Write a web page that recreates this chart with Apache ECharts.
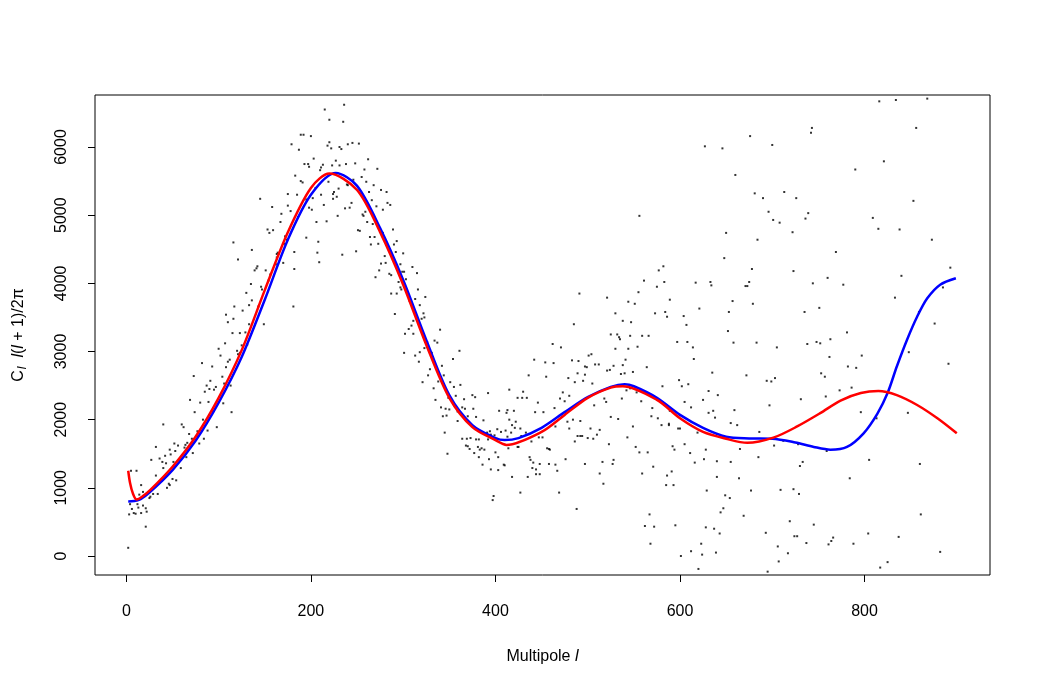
<!DOCTYPE html>
<html>
<head>
<meta charset="utf-8">
<script src="https://cdn.jsdelivr.net/npm/echarts@6.0.0/dist/echarts.min.js"></script>
<style>
  html, body { margin: 0; padding: 0; background: #fff; }
  #chart { width: 1038px; height: 692px; }
</style>
</head>
<body>
<div id="chart"></div>
<script>
const points = [
  [179,6040],[183,5580],[175,5310],[145,5240],[158,5120],[175,5140],[168,5020],[178,5060],[153,4790],[155,4740],
  [159,4780],[167,4900],[116,4600],[172,4690],[174,4640],[171,4580],[136,4490],[164,4450],[163,4430],[163,4380],
  [182,4460],[121,4350],[170,4300],[162,4280],[142,4250],[141,4220],[139,4190],[151,4190],[156,4130],[182,4210],
  [154,4040],[135,3990],[146,3950],[147,3910],[130,3860],[136,3750],[133,3680],[117,3660],[143,3660],[181,3660],
  [126,3600],[108,3540],[116,3480],[110,3430],[133,3400],[149,3400],[115,3270],[129,3280],
  [123,3270],[107,3120],[125,3090],[131,3100],[100,3040],[120,3010],[123,2980],[121,2960],[102,2940],[112,2880],
  [110,2850],[82,2830],[93,2780],[108,2770],[73,2640],[104,2630],[91,2570],[106,2530],[113,2500],[87,2500],
  [97,2480],[90,2450],[95,2440],[85,2410],[69,2290],[89,2260],[105,2240],[80,2250],[94,2120],[114,2110],
  [74,2110],[83,2000],[40,1930],[60,1930],[62,1890],[77,1830],[88,1840],[98,1890],[68,1790],[76,1760],
  [84,1720],[71,1720],[52,1650],[79,1650],[66,1660],[32,1600],[56,1620],[64,1630],[63,1590],[47,1560],
  [53,1540],[42,1470],[48,1490],[72,1510],[65,1450],[27,1410],[36,1430],[39,1380],[43,1360],[51,1380],
  [40,1290],[59,1290],[32,1180],[42,1170],[50,1130],[54,1110],[16,1040],[46,1060],[47,1040],[44,1000],
  [5,1250],[11,1250],[29,910],[34,910],[18,940],[14,900],[25,850],[26,870],[12,760],[4,760],
  [18,740],[6,690],[13,710],[21,700],[22,650],[3,610],[8,630],[10,620],[16,630],[21,430],[2,120],
  [215,6550],[236,6620],[220,6400],[235,6370],[189,6180],[192,6180],[200,6160],[220,6070],[218,6020],[222,5980],
  [231,6000],[233,5970],[240,6040],[245,6060],[252,6050],[187,5960],[203,5830],[193,5750],[197,5750],[198,5710],
  [213,5740],[211,5700],[210,5660],[223,5730],[227,5800],[231,5730],[238,5750],[248,5760],[262,5820],[258,5670],
  [272,5680],[189,5500],[191,5480],[219,5490],[205,5400],[230,5390],[225,5340],[239,5450],[240,5440],[246,5520],
  [255,5560],[260,5490],[268,5440],[263,5340],[276,5370],[282,5340],[185,5300],[195,5230],[202,5250],[211,5300],
  [224,5310],[228,5270],[224,5240],[244,5180],[242,5110],[237,5100],[214,5150],[198,5110],[201,5080],[266,5220],
  [271,5130],[278,5080],[283,5180],[286,5150],[186,4970],[206,4900],[217,4910],[229,4990],[259,5050],[256,5010],
  [257,4990],[261,4900],[267,4870],[251,4780],[253,4770],[278,4740],[289,4790],[195,4670],[208,4610],[207,4450],
  [209,4310],[234,4420],[249,4470],[264,4680],[269,4680],[265,4570],[273,4580],[293,4620],[290,4570],[292,4460],
  [300,4440],[280,4400],[281,4300],[276,4290],[274,4190],[270,4090],[285,4140],[287,4120],[297,4280],[299,4170],
  [301,4170],[303,4060],[310,4240],[315,4150],[295,4020],[297,3940],[298,3910],[287,3850],[293,3850],[316,3910],
  [324,3800],[313,3770],[307,3740],[318,3680],[291,3550],[322,3560],[323,3500],[320,3480],[311,3450],[309,3380],
  [306,3330],[340,3320],[302,3260],[311,3260],
  [301,2980],[313,2940],[318,2990],[317,2850],[323,3050],[326,3140],[334,3160],[337,3130],[331,2980],[361,3010],
  [354,2890],[342,2790],[327,2650],[329,2740],[321,2550],[344,2650],[338,2560],[351,2550],[362,2510],[355,2480],
  [333,2460],[357,2350],[349,2320],[335,2290],[366,2300],[375,2360],[378,2330],[392,2390],[341,2180],[346,2160],
  [350,2150],[364,2180],[367,2160],[376,2160],[359,2120],[343,2050],[347,2060],[370,2050],[379,2040],[387,1990],
  [359,1980],[345,1810],[364,1720],[369,1720],[373,1730],[379,1710],[382,1710],[391,1810],[394,1830],[392,1710],
  [368,1620],[372,1570],[370,1610],[381,1600],[383,1560],[385,1580],[388,1560],[377,1510],[382,1450],[393,1420],
  [386,1340],[348,1500],
  [525,3250],[532,3250],[534,3210],[535,3180],[546,3230],[559,3230],[566,3230],[652,3300],[462,3110],[471,3060],
  [530,3040],[544,3040],[554,3070],[597,3140],[608,3140],[614,3060],[658,3130],[501,2940],[504,2960],[541,2880],
  [442,2880],[454,2840],[463,2830],[483,2870],[490,2860],[497,2780],[499,2770],[508,2810],[512,2810],[528,2790],
  [538,2800],[564,2770],[615,2890],[436,2650],[455,2630],[479,2610],[489,2680],[497,2660],[521,2720],[524,2730],
  [536,2670],[540,2680],[549,2700],[635,2690],[486,2550],[495,2570],[505,2530],[599,2580],[609,2520],[602,2490],
  [415,2440],[430,2410],[424,2320],[429,2320],[434,2320],[473,2400],[480,2350],[470,2310],[475,2270],[446,2250],
  [518,2310],[520,2260],[537,2310],[542,2430],[546,2460],[553,2400],[558,2270],[563,2390],[581,2490],[631,2420],
  [641,2360],[605,2260],[625,2290],[507,2210],[404,2130],[413,2140],[420,2130],[443,2110],[452,2110],[412,2100],
  [464,2170],[612,2180],[570,2170],[589,2130],[631,2100],[636,2130],[659,2140],[415,2000],[422,1970],[418,1920],
  [421,1880],[427,1870],[433,1810],[569,2050],[576,2020],[580,1920],[588,1940],[588,1920],[598,1870],[600,1870],
  [638,2030],[655,1950],[465,1900],[478,1970],[484,2000],[492,1980],[503,1870],[513,1850],[480,1870],[525,2040],
  [533,2010],[549,1900],[395,1780],[399,1770],[402,1860],[406,1820],[411,1840],[413,1750],[417,1810],[401,1720],
  [428,1760],[439,1680],[447,1740],[451,1740],[489,1760],[492,1760],[494,1760],[486,1680],[500,1730],[506,1720],
  [510,1780],[523,1640],[543,1740],[619,1810],[605,1640],[424,1600],[425,1600],[414,1580],[400,1520],[403,1450],
  [437,1450],[456,1580],[458,1570],[459,1560],[438,1410],[441,1370],[448,1350],[458,1350],[465,1340],[476,1420],
  [497,1350],[516,1380],[528,1410],[527,1350],[552,1600],[556,1520],[565,1520],[592,1610],[594,1560],[611,1510],
  [616,1370],[626,1420],[628,1560],[640,1390],[655,1380],[440,1290],[444,1270],[467,1250],[395,1270],[403,1260],
  [409,1340],[410,1330],[418,1160],[435,1160],[444,1200],[448,1200],[513,1210],[559,1210],[571,1310],[586,1180],
  [591,1240],[640,1160],[517,1060],[585,1040],[593,1040],[629,960],[427,930],[469,930],[398,880],[397,820],
  [649,890],[654,850],[488,690],[647,700],[644,640],[567,610],[562,440],[572,430],[595,450],[628,420],
  [637,400],[643,330],[568,180],[623,180],[612,70],[624,20],[601,0],[639,50],[620,-190],
  [627,6010],[646,5980],[660,5590],[556,4990],[650,4740],[648,4370],[582,4250],[577,4190],[561,4040],[583,4020],
  [575,3950],[617,4010],[633,4020],[634,3970],[491,3850],[521,3790],[555,3870],[589,3760],[544,3730],[551,3700],
  [657,3740],[621,3630],[530,3560],[573,3560],[584,3580],[586,3510],[604,3520],[653,3580],[485,3400],[538,3450],
  [547,3430],[607,3390],
  [816,6670],[834,6690],[868,6710],[743,6280],[742,6210],[856,6280],[676,6160],[700,6030],[821,5790],[790,5670],
  [681,5320],[690,5250],[713,5340],[726,5250],[853,5210],[696,5050],[739,5030],[736,4950],[701,4930],[708,4890],
  [722,4750],[809,4960],[815,4800],[838,4790],[684,4640],[873,4640],[769,4460],[678,4210],[723,4180],[893,4230],
  [675,4020],[671,3960],[673,3960],[760,4080],[744,4000],[777,3980],[840,4110],[885,3940],[679,3700],[751,3640],
  [735,3580],[833,3790],[859,3580],[876,3410],[781,3280],
  [683,3130],[705,3060],[738,3110],[748,3140],[752,3120],[763,3180],[762,2920],[797,2940],[782,2780],[791,2760],
  [848,2990],[891,2820],[672,2650],[694,2570],[699,2560],[703,2610],[753,2680],[757,2630],[773,2430],[786,2470],
  [758,2340],[731,2300],[697,2210],[796,2110],[813,2020],[847,2100],[662,1920],[686,1820],[702,1620],[728,1640],
  [712,1690],[665,1570],[685,1450],[759,1540],[805,1410],[733,1380],[730,1320],[860,1350],[664,1140],[784,1140],
  [677,960],[709,970],[723,980],[729,910],[669,590],[861,610],[719,510],[745,460],[693,340],[804,330],
  [724,290],[727,290],[766,270],[764,220],[737,190],[761,170],[788,180],[837,280],[706,140],[717,40],
  [882,60],[707,-80],[825,-90],[817,-170],[695,-230]
];

// blue fit
const blueL = [2,13,24,50,75,100,125,150,175,200,227,250,275,300,325,350,375,400,410,425,450,475,500,525,540,550,575,600,625,650,675,700,725,745,763,781,799,814,825,835,846,857,868,882,899];
const blueV = [800,820,920,1260,1690,2250,2920,3760,4640,5300,5620,5430,4810,4050,3170,2360,1920,1730,1700,1730,1880,2110,2330,2480,2520,2490,2320,2070,1880,1750,1725,1720,1665,1600,1560,1600,1800,2090,2390,2780,3170,3510,3780,3980,4075];

// red fit
const redL = [2,4,7,11,17,26,50,75,100,125,150,175,200,220,250,275,300,325,350,375,400,412,450,475,500,525,538,575,600,625,650,673,702,727,752,774,796,815,835,857,879,900];
const redV = [1250,1070,920,830,870,970,1310,1750,2320,3020,3900,4750,5400,5610,5370,4750,3980,3100,2320,1890,1700,1630,1820,2070,2320,2470,2490,2290,2020,1820,1720,1660,1740,1900,2095,2280,2390,2420,2360,2215,2020,1800];

const xTicks = [0, 200, 400, 600, 800];
const yTicks = [0, 1000, 2000, 3000, 4000, 5000, 6000];

const font = "'Liberation Sans', Arial, Helvetica, sans-serif";

const chart = echarts.init(document.getElementById('chart'), null, { renderer: 'canvas' });

const option = {
  animation: false,
  backgroundColor: '#fff',
  textStyle: { fontFamily: font },
  grid: {
    left: 95, right: 48, top: 95, bottom: 117,
    show: true, borderColor: '#000', borderWidth: 1, backgroundColor: 'transparent'
  },
  xAxis: {
    type: 'value',
    min: -34, max: 936,
    axisLine: { show: false, onZero: false },
    splitLine: { show: false },
    axisTick: { show: true, inside: false, length: 7, customValues: xTicks, lineStyle: { color: '#000' } },
    axisLabel: { customValues: xTicks, color: '#000', fontSize: 16, margin: 29, fontFamily: font,
      formatter: (v) => String(v) },
    name: '{a|Multipole }{i|l}',
    nameLocation: 'middle',
    nameGap: 74,
    nameTextStyle: {
      rich: {
        a: { fontSize: 16, color: '#000', fontFamily: font },
        i: { fontSize: 16, color: '#000', fontFamily: font, fontStyle: 'italic' }
      }
    }
  },
  yAxis: {
    type: 'value',
    min: -279, max: 6763,
    axisLine: { show: false, onZero: false },
    splitLine: { show: false },
    axisTick: { show: true, inside: false, length: 7, customValues: yTicks, lineStyle: { color: '#000' } },
    axisLabel: { customValues: yTicks, color: '#000', fontSize: 16, rotate: 90, margin: 25, fontFamily: font,
      formatter: (v) => String(v) },
    name: '{a|C}{s|l}{a|  }{i|l}{a|(}{i|l}{a| + 1)/2π}',
    nameLocation: 'middle',
    nameRotate: 90,
    nameGap: 66,
    nameTextStyle: {
      rich: {
        a: { fontSize: 16, color: '#000', fontFamily: font },
        i: { fontSize: 16, color: '#000', fontFamily: font, fontStyle: 'italic' },
        s: { fontSize: 12, color: '#000', fontFamily: font, fontStyle: 'italic', padding: [9, 0, 0, 1] }
      }
    }
  },
  series: [
    {
      type: 'scatter',
      data: points,
      symbol: 'rect',
      symbolSize: 2,
      itemStyle: { color: '#000' },
      silent: true,
      z: 2
    },
    {
      type: 'line',
      data: blueL.map((l, i) => [l, blueV[i]]),
      smooth: 0.3,
      showSymbol: false,
      lineStyle: { color: '#0000ff', width: 2.5 },
      silent: true,
      z: 3
    },
    {
      type: 'line',
      data: redL.map((l, i) => [l, redV[i]]),
      smooth: 0.3,
      showSymbol: false,
      lineStyle: { color: '#ff0000', width: 2.5 },
      silent: true,
      z: 4
    }
  ]
};

chart.setOption(option);
</script>
</body>
</html>
